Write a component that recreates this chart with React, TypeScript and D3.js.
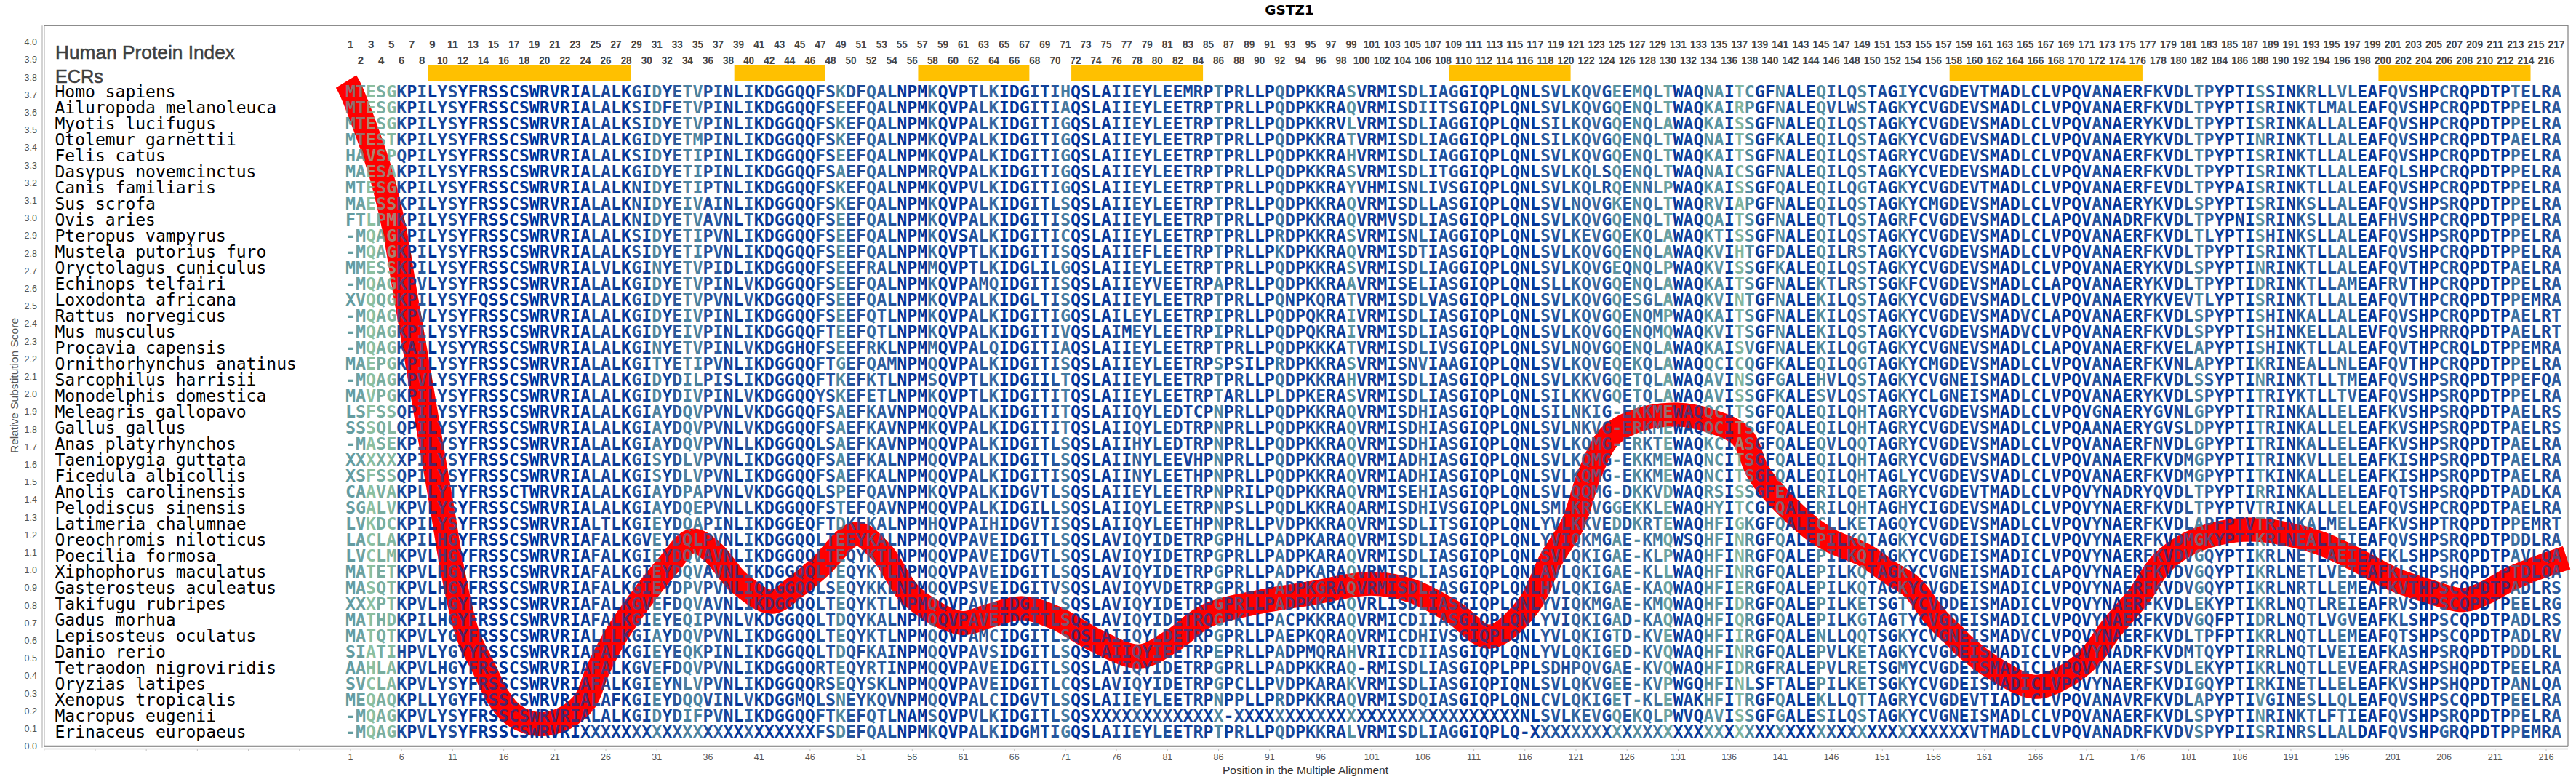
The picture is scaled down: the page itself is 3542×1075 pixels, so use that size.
import React from 'react';
import * as d3 from 'd3';

const title = 'GSTZ1';
const species = [
  'Homo sapiens','Ailuropoda melanoleuca','Myotis lucifugus','Otolemur garnettii','Felis catus','Dasypus novemcinctus','Canis familiaris','Sus scrofa','Ovis aries','Pteropus vampyrus','Mustela putorius furo','Oryctolagus cuniculus','Echinops telfairi','Loxodonta africana','Rattus norvegicus','Mus musculus','Procavia capensis','Ornithorhynchus anatinus','Sarcophilus harrisii','Monodelphis domestica','Meleagris gallopavo','Gallus gallus','Anas platyrhynchos','Taeniopygia guttata','Ficedula albicollis','Anolis carolinensis','Pelodiscus sinensis','Latimeria chalumnae','Oreochromis niloticus','Poecilia formosa','Xiphophorus maculatus','Gasterosteus aculeatus','Takifugu rubripes','Gadus morhua','Lepisosteus oculatus','Danio rerio','Tetraodon nigroviridis','Oryzias latipes','Xenopus tropicalis','Macropus eugenii','Erinaceus europaeus',
];

const seqCols1to30 = [
'MTESGKPILYSYFRSSCSWRVRIALALKGI','MTESGKPILYSYFRSSCSWRVRIALALKSI','MTESGKPILYSYFRSSCSWRVRIALALKSI','MTESTKPILYSYFRSSCSWRVRIALALKGI','HAVSPQPILYSYFRSSCSWRVRIALALKSI','MAESAKPILYSYFRSSCSWRVRIALALKGI','MTESGKPILYSYFRSSCSWRVRIALALKNI','MAESSKPILYSYFRSSCSWRVRIALALKNI','FTLPMKPILYSYFRSSCSWRVRIALALKNI','-MQAGKPILYSYFRSSCSWRVRIALALKSI','-MQAGKPILYSYFRSSCSWRVRIALALKSI','MMESSKPILYSYFRSSCSWRVRIALVLKGI','-MQAGKPVLYSYFRSSCSWRVRIALALKGI',
'XVQQGKPILYSYFQSSCSWRVRIALALKGI','-MQAGKPVLYSYFRSSCSWRVRIALALKGI','-MQAGKPILYSYFRSSCSWRVRIALALKGI','-MQAGKAILYSYYRSSCSWRVRIALALKGI','MAEPGKPILYSYFRSSCSWRVRIALALKGI','-MQAGKPVLYSYFRSSCSWRVRIALALKGI','MAVPGKPILYSYFRSSCSWRVRIALALKGI','LSFSSQPILYSYFRSSCSWRVRIALALKGI','SSSQLQPILYSYFRSSCSWRVRIALALKGI','-MASEKPILYSYFRSSCSWRVRIALALKGI','XXXXXXPILYSYFRSSCSWRVRIALALKGI','XSFSSQPILYSYFRSSCSWRVRIALALKGI','CAAVAKPLLYTYFRSSCTWRVRIALALKGI','SGALVKPVLYSYFRSSCSWRVRIALALKGI','LVKDCKPILYSYFRSSCSWRVRIALTLKGI',
'LACLAKPILHGYFRSSCSWRVRIAFALKGV','LVCLMKPVLHGYFRSSCSWRVRIAFALKGI','MATETKPVLHGYFRSSCSWRVRIAFALKGI','MASQTKPVLHGYFRSSCSWRVRIAFALKGI','XXXPTKPVLHGYFRSSCSWRVRIAFALKGV','MATHDKPILHGYFRSSCSWRVRIAFALKGI','MATQTKPVLYGYFRSSCSWRVRIALLLKGI','SIATIHPVLYGYYRSSCSWRVRIAFALKGI','AAHLAKPVLHGYFRSSCSWRVRIAFALKGV','SVCLAKPVLYSYFRSSCSWRVRIAFALKGI','MEQAQKPLLYGYFRSSCSWRVRIALAFKGI','-MQAGKPVLYSYFRSSCSWRVRIALALKGI','-MQAGKPVLYSYFRSSCSWRVRIXXXXXXX',
];

const seqCols31to94 = [
'DYETVPINLIKDGGQQFSKDFQALNPMKQVPTLKIDGITIHQSLAIIEYLEEMRPTPRLLPQDP','DFETVPINLIKDGGQQFSEEFQALNPMKQVPALKIDGITIAQSLAIIEYLEETRPTPRLLPQDP','DYETVPINLIKDGGQQFSKEFQALNPMKQVPALKIDGITIGQSLAIIEYLEETRPTPRLLPQDP','DYETMPINLIKDGGQQFSKEFQALNPMKQVPALKIDGITIGQSLAIIEYLEETRPTPRLLPQDP','DYETIPINLIKDGGQQFSEEFQALNPMKQVPALKIDGITIGQSLAIIEYLEETRPTPRLLPQDP','DYETIPINLIKDGGQQFSAEFQALNPMRQVPALKIDGITIGQSLAIIEYLEETRPTPRLLPQDP','DYETIPTNLIKDGGQQFSKEFQALNPMKQVPVLKIDGITIGQSLAIIEYLEETRPTPRLLPQDP','DYEIVAINLIKDGGQQFSKEFQALNPMKQVPALKIDGITLSQSLAIIEYLEETRPTPRLLPQDP','DYETVAVNLTKDGGQQFSEEFQALNPMKQVPALKIDGITISQSLAIIEYLEETRPTPRLLPQDP','DYETIPVNLIKDGGQQFSEEFQALNPMKQVSALKIDGITICQSLAIIEYLEETRPTPRLLPRDP','DYETIPVNLIKDQGQQFSEEFQALNPMKQVPTLKIDGITISQSLAIIEFLEETRPTPRLLPKDP','NYETVPIDLIKDGGQQFSEEFRALNPMMQVPTLKIDGLILGQSLAIIEYLEETRPTPRLLPQDP','DYETVPINLVKDGGQQFSEEFQALNPMKQVPAMQIDGITISQSLAIIEYVEETRPAPRLLPQDP',
'DYETVPVNLVKDGGQQFSEEFQALNPMKQVPALKIDGLTISQSLAIIEYLEETRPTPRLLPQNP','DYEIVPINLIKDGGQQFSEEFQTLNPMKQVPALKIDGITIGQSLAILEYLEETRPIPRLLPQDP','DYEIVPINLIKDGGQQFTEEFQTLNPMKQVPALKIDGITIVQSLAIMEYLEETRPIPRLLPQDP','NYETVPINLVKDGGHQFSEEFRKLNPMMQVPALQIDGITIAQSLAIIEYLEETRPTPRLLPQDP','TYETIPVNLIKDGGQQFTGEFQAMNPMQQVPALKIDGITISQSLAIIEYLEETRPSPSILPRDP','DYDILPISLIKDGGQQFTKEFKTLNPMSQVPTLKIDGIILTQSLAIIEYLEETRPTPRLLPQDP','DYDIVPINLVKDGGQQYSKEFETLNPMKQVPTLKIDGITITQSLAIIEYLEETRPTARLLPLDP','AYDQVPVNLVKDGGQQFSAEFKAVNPMQQVPALKIDGITITQSLAIIQYLEDTCPNPRLLPQDP','AYDQVPVNLVKDGGQQFSAEFKAVNPMKQVPALKIDGITITQSLAIIQYLEDTRPNPRLLPQDP','AYDQVPVNLLKDGGQQLSAEFKAVNPMQQVPALKIDGITLSQSLAIIHYLEDTRPNPRLLPQDP','SYDLVPVNLIKDGGQQFSAEFKALNPMQQVPALKIDGITLSQSLAIINYLEEVHPNPRLLPQDP','SYDLVPVNLIKDGGQQFSAEFKALNPMQQVPALKIDGITISQSLAIINYLEETHPNPRLLPQDP','AYDPAPVNLVKDGGQQLSPEFQAVNPMKQVPALKIDGVTLSQSLAIIEYLEETRPNPRILPQDP','AYDQEPVNLLKDGGQQFSTEFQAVNPMQQVPALKIDGILLSQSLAIIQYLEETRPNPSLLPQDL','EYDQAPINLIKDGGEQFTDKFKALNPMHQVPAIHIDGVTISQSLAIIQYLEETHPNPRLLPVDP',
'EYDQLPVNLIKDGGQQLTEEYKALNPMQQVPAVEIDGITLSQSLAVIQYIDETRPGPHLLPADP','EYDQVAVNLIKDGGQQLTEQYKTLNPMQQVPAVEIDGVTLSQSLAVIQYIDETRPGPRLLPADP','EYDQVAVNLIKDGGQQLTEQYKTLNPMQQVPAVEIDGITLSQSLAVIQYIDETRPGPRLLPADP','EYDPVPVNLIQDGGQQLSEQYKKLNPMQQVPSVEIDGITVSQSLAVIQYVDETRPGPRLLPADP','EFDQVAVNLIKDGGQQLTEQYKTLNPMQQVPAVEIDGITLSQSLAVIQYIDETRPGPRLLPADP','EYEQIPVNLVKDGGQQLTDQYKALNPMQQVPAVEIDGITLSQSLAVIQYIDETRQGPKLLPACP','AYDQVPVNLIKDGGQQLTEQYKTLNPMQQVPAMCIDGITLSQSLAIIQYLDETRPGPRLLPAEP','EYEQKPINLIKDGGQQLTDQFKAINPMQQVPAVSIDGITLSQSLAIIQYIEETRPEPRLLPADP','EFDQVPVNLIKDGGQQRTEQYRTINPMQQVPAVEIDGITLSQSLAVIQYIDETRPGPRLLPADP','EYNLVPVNLIKDGGQQRSEQYSKLNPMQQVPAVEIDGITLCQSLAVIQYIDETRPGPCLLPVDP','EYDQQVINLVKDGGMQLSNEYKQVNPMQQVPALCIDGVTLSQSLAIIEYLEETRPNPPLLPRDP','DYDIFPVNLIKDGGQQFTKEFQTLNAMSQVPVLKIDGITLSQSXXXXXXXXXXXXX-XXXXXXX','XXXXXXXXXXXXXXXXFSDEFQALNPMKQVPALKIDGMTIGQSLAIIEYLEETRPTPRLLPQDP',
];

const seqCols95to158 = [
'KKRASVRMISDLIAGGIQPLQNLSVLKQVGEEMQLTWAQNAITCGFNALEQILQSTAGIYCVGD','KKRAQVRMISDIITSGIQPLQNLSVLKQVGQENQLTWAQKAIRPGFNALEQVLWSTAGKYCVGD','KKRVLVRMISDLIAGGIQPLQNLSILKQVGQENQLAWAQKAISSGFNALEQILQSTAGKYCVGD','KKRATVRMISDLIAGGIQPLQNLSILKQVGQENQLTWAQNAITSGFKALEQILQSTAGKYCVGD','KKRAHVRMISDLIAGGIQPLQNLSVLKQVGQENQLTWAQKAITSGFNALEQILQSTAGRYCVGD','KKRASVRMISDLITGGIQPLQNLSVLKQLSQENQLTWAQNAICSGFNALEQILQSTAGKYCVED','KKRAYVHMISNLIVSGIQPLQNLSVLKQLRQENNLPWAQKAISSGFQALEQILQGTAGKYCVGD','KKRAQVRMISDLLASGIQPLQNLSVLNQVGKENQLTWAQRVIAPGFNALEQILQSTAGKYCMGD','KKRAQVRMVSDLIASGIQPLQNLSVLKQVGQENQLTWAQQAITSGFNALEQTLQSTAGRFCVGD','KKRASVRMISNLIAGGIQPLQNLSVLKEVGQEKQLAWAQKTISSGFNALEQILQSTAGKYCVGD','KKRAQVRMISDTIASGIQPLQNLSVLKQVGQENQLAWAQKVIHTGFDALEQILRSTAGKYCVGD','KKRASVRMISDLIAGGIQPLQNLSVLKQVGEQNQLPWAQKVISSGFKALEQILQSTAGKYCVGD','KKRAAVRMISELIASGIQPLQNLSLLKQVGQENQLAWAQKAITSGFNALEKTLRSTSGKFCVGD',
'KQRATVRMISDLVASGIQPLQNLSVLKQVGQESGLAWAQKVINTGFNALEKILQSTAGKYCVGD','QKRAIVRMISDLIASGIQPLQNLSVLKQVGQENQMPWAQKAITSGFNALEKILQSTAGKYCVGD','QKRAIVRMISDLIASGIQPLQNLSVLKQVGQENQMQWAQKVITSGFNALEKILQSTAGKYCVGD','KKKATVRMISDLIVSGIQPLQNLSVLNQVGQENQLAWAQKAISVGFNALEKILQGTAGKYCVGN','KKRASVRMISNVIAAGIQPLQNLSVLKQVEQEKQLAWAQQCICQGFKALEQILQGTAGKYCMGD','KKRAHVRMISDLIASGIQPLQNLSVLKKVGQETQLAWAQAVINSGFGALEHVLQSTAGKYCVGN','KERASVRMISDLIASGIQPLQNLSILKKVGQETQLAWAQAVISSGFKALESVLQSTAGKYCLGN','KKRAQVRMISDHIASGIQPLQNLSILNKIG-EKKMEWAQQCITSGFQALEQILQHTAGRYCVGD','KKRAQVRMISDHIASGIQPLQNLSVLNKVG-ERKMEWAQQCITSGFQALEQILQHTAGRYCVGD','KKRAQVRMISDHIASGIQPLQNLSVLKQMG-ERKTEWAQKCIASGFQALEQVLQQTAGRYCVGD','KKRAQVRMIADHIASGIQPLQNLSVLKQMG-EKKMEWAQNCITSGFQALEQILQHTAGRYCVGD','KKRAQVRMIADHIASGIQPLQNLSVLKQMG-EKKMEWAQNCITSGFQALEQILQHTAGLYCVGD','KKRAQVRMISEHIASGIQPLQNLSVLQQMG-DKKVDWAQRSISSGFEALERILQETAGRYCVGD','KKRAQARMISDHIVSGIQPLQNLSMLKRVGGEKKLEWAQHYITCGFQALERILQHTAGHYCIGD','KKRAQVRMISDLITSGIQPLQNLYVLKKVEDDKRTEWAQHFIGKGFQALECLLKETAGQYCVGD',
'KARAQVRMISDLIASGIQPLQNLYVIQKMGAE-KMQWSQHFINRGFQALEPILKQTAGKYCVGD','KARAQVRMISDLIASGIQPLQNLSVLQKIGAE-KLPWAQHFINRGFQALEPILKQTAGKYCVGD','KARAQVRMISDLIASGIQPLQNLAVLQKIGAE-KLLWAQHFINRGFQALEPILKQTAGKYCVGN','KGRAQVRMISDLIASGIQPLQNLHVLQKIGAE-KAQWAQHFIERGFQALEPILKQTAGKYCVGD','KKRAQVRLISDLIASGIQPLQNLYVIQKMGAE-KMQWAQHFIDRGFQALEPILKETSGTYCVDD','KKRAQVRMICDIIASGIQPLQNLYVIQKIGAD-KAQWAQHFIQRGFQALEPILKGTAGTYCVGD','KQRAQVRMICDHIVSGIQPLQNLYVLQKIGTD-KVEWAQHFIIRGFQALENLLQQTSGKYCVGN','MQRAHVRIICDIIASGIQPLQNLYVLQKIGED-KVQWAQHFINRGFQALEPVLKETAGKYCVGD','KKRAQ-RMISDLIASGIQPLPPLSDHPQVGAE-KVQWAQHFIDRGFRALEPVLRETSGMYCVGD','KARAKVRMISDLIASGIQPIQNLSVLQKVGEE-KVPWGQHFINLSFTALEPILKETSGKYCVGD','KKRAQVRMISDQIASGIQPLQNLCVLQKIGET-KLEWAKHFITRGFQALEKLLQTTAGRYCVGD','XXXXXXXXXXXXXXXXXXXXXNLSVLKEVGQEKQLPWVQAVISSGFGALESILQSTAGKYCVGN','KKRALVRMISDLIAGGIQPLQ-XXXXXXXXXXXXXXXXXXXXXXXXXXXXXXXXXXXXXXXXXX',
];

const seqCols159to217 = [
'EVTMADLCLVPQVANAERFKVDLTPYPTISSINKRLLVLEAFQVSHPCRQPDTPTELRA','EVSMADLCLVPQVANAERFKVDLTPYPTISRINKTLMALEAFQVSHPCRQPDTPPELRA','EVSMADLCLVPQVANAERYKVDLTPYPTISRINKALLALEAFQVSHPCRQPDTPPELRA','EVSMADLCLVPQVANAERYKVDLTPYPTINRINKTLLALEAFQVSHPCRQPDTPAELRA','EVSMADLCLVPQVANAERFKVDLTPYPTISRINKTLLALEAFQVSHPCRQPDTPPELRA','EVSMADLCLVPQVANAERFKVDLTPYPTISRINKTLLALEAFQLSHPCRQPDTPPELRA','EVTMADLCLVPQVANAERFEVDLTPYPAISRINKTLLALEAFQVSHPCRQPDTPPELRA','EVSMADLCLVPQVANAERYKVDLSPYPTISRINKSLLALEAFQVSHPSRQPDTPPELRA','EVSMADLCLAPQVANADRFKVDLTPYPNISRINKSLLALEAFHVSHPCRQPDTPPELRA','EVSMADLCLVPQVANAERFKVDLTLYPTISHINKSLLALEAFQVSHPSRQPDTPPELRA','EVSMADLCLVPQVANAERFKVDLTPYPTISRINKTLLALEAFQVSHPCRQPDTPPELRA','EVSMADLCLVPQVANAERYKVDLSPYPTINRINKTLLALEAFQVTHPCRQPDTPAELRA','EVSMADLCLAPQVANAERYKVDLTPYPTIDRINKTLLAMEAFRVTHPCRQPDTPPELRA',
'EVSMADLCLVPQVANAERYKVEVTLYPTISRINKTLLALEAFQVTHPCRQPDTPPEMRA','EVSMADVCLAPQVANAERFKVDLSPYPTISHINKALLALEAFQVSHPCRQPDTPAELRT','EVSMADVCLVPQVANAERFKVDLSPYPTISHINKELLALEVFQVSHPRRQPDTPAELRT','EVSMADLCLAPQVANAERFKVELAPYPTISHINKTLLALEAFQVTHPCRQLDTPPEMRA','EVSMADLCLVPQVANAERFKVNLAPYPTIKRINEALLNLEAFQVTHPCRQPDTPPELRA','EISMADLCLVPQVANAERFKVDLSSYPTINRINKTLLTMEAFQVSHPSRQPDTPPEFQA','EISMADLCLVPQVANAERYKVDLSPYPTITRIYKTLLTVEAFQVSHPSRQPDTPPELRA','EVSMADLCLVPQVGNAERYGVNLGPYPTITRINKALLELEAFKVSHPSRQPDTPAELRS','EVSMADLCLVPQAANAERYGVSLDPYPTITRINKALLELEAFKVSHPSRQPDTPAELRS','EVSMADLCLVPQVANAERFNVDLGPYPTITRINKALLELEAFKVSHPSRQPDTPAELRA','EVSMADLCLVPQVANAERFKVDMGPYPTITRINKVLLELEAFKISHPSRQPDTPAELRA','EVSVADLCLVPQVANAERFKVDMGPYPTITKINKALLELEAFKISHPSRQPDTPAELRA','EVTMADLCLVPQVYNADRYQVDLTPYPTIRRINKALLELEAFQTSHPSRQPDTPADLKA','EVSMADLCLVPQVYNAERFKVDLTPYPTVTRINKALLELEAFQVSHPCRQPDTPAELRA','EVSMADLCLVPQVYNAERFKVDLAPFPTVTRINKALMELEAFKVSHPTRQPDTPPEMRT',
'EISMADICLVPQVYNAERFKVDMGKYPTIKRLNEALLEIEAFQVSHPSRQPDTPDDLRA','EISMADICLVPQVYNAERFKVDVGQYPTIKRLNETLAEIEAFKLSHPSRQPDTPAVLQA','EISMADICLAPQVYNAERFKVDVGQYPTIKRLNETLVEIEAFKLSHPSHQPDTPTDLQA','EISMADICLVPQVYNAERFKVDVGQYPTIKRLNRTLLEMEAFKVTHPSCQPDTPADLRS','EISMADICLVPQVYNAERFKVDLEKYPTIKRLNQTLREIEAFRVSHPSCQPDTPEELRG','EISMADICLVPQVYNAERFKVDVGQFPTIDRLNQTLVGVEAFKLSHPSCQPDTPADLRS','EISMADVCLVPQVYNAERFKVDLTPFPTIKRLNQTLLEMEAFQTSHPSCQPDTPADLRV','EISMADICLVPQVYNADRFKVDMTQYPTIRRLNQTLVEIEAFKASHPSRQPDTPDDLRL','EISMADICLVPQVYNAERFSVDLEKYPTIKRLNQTLLEVEAFRASHPSHQPDTPEELRA','EISMADICLVPQVYNAERFKVDIGQYPTIRKINETLLELEAFKVSHPSHQPDTPANLQA','EVTIADLCLVPQVANAVRFKVDLAPYPTIVGINESLLQLEAFQVSHPSCQPDTPEELRA','EISMADLCLVPQVANAERFKVDLSPYPTINRINKTLFTIEAFQVSHPSRQPDTPPELRA','XVTMADLCLVPQVANADRFKVDVSPYPIISRINRSLLALDAFQVSHPGRQPDTPPEMRA',
];

const ecrStarts = [9, 39, 57, 72, 109, 158, 200];
const ecrEnds = [28, 47, 67, 84, 120, 176, 214];

const curvePositions = [0.57, 1.07, 3.85, 5.31, 6.33, 7.35, 8.9, 10, 11.05, 12.5, 14, 15.5, 17, 19.5, 22, 24, 25.2, 27, 29.2, 32, 34.5, 36.5, 39, 42.2, 44.5, 47, 50.5, 53, 56, 60.8, 63.5, 66.7, 70, 74, 78.2, 81.5, 84.8, 90, 94.9, 101, 105, 109, 112.5, 116.2, 118.6, 120.7, 122.3, 124.3, 127, 130.9, 134, 137.2, 139, 143.5, 145.8, 149.4, 151.5, 153.9, 155.2, 156.4, 158, 159, 162, 165.9, 169, 171.4, 173.5, 176.2, 178.3, 181, 184, 187.2, 191, 194, 197.2, 201, 204.5, 207.9, 210, 212.5, 215.5, 218];
const curveScores = [3.775, 3.72, 3.275, 2.93, 2.58, 2.24, 1.71, 1.34, 0.98, 0.63, 0.449, 0.275, 0.175, 0.125, 0.16, 0.26, 0.43, 0.63, 0.816, 1.02, 1.168, 1.1, 0.93, 0.82, 0.9, 1.02, 1.205, 1.1, 0.85, 0.7, 0.74, 0.784, 0.73, 0.6, 0.51, 0.6, 0.74, 0.82, 0.867, 0.923, 0.88, 0.76, 0.622, 0.788, 1.065, 1.263, 1.54, 1.76, 1.85, 1.883, 1.85, 1.76, 1.54, 1.263, 1.171, 1.08, 0.994, 0.904, 0.81, 0.72, 0.63, 0.57, 0.44, 0.337, 0.4, 0.51, 0.675, 0.858, 1.036, 1.15, 1.21, 1.23, 1.2, 1.15, 1.065, 0.95, 0.88, 0.83, 0.87, 0.95, 1.02, 1.07];

const sequences = species.map((_, i) => seqCols1to30[i] + seqCols31to94[i] + seqCols95to158[i] + seqCols159to217[i]);

const columnCount = 217;
const columns = d3.range(1, columnCount + 1);
const yTicks = d3.range(0, 41).map(d => d / 10);
const xTicks = d3.range(-29, 218, 5);

const x = d3.scaleLinear().domain([1, 216]).range([482, 3501]);
const y = d3.scaleLinear().domain([0, 4]).range([1025.7, 57.7]);
const rowY = d3.scaleLinear().domain([0, 40]).range([134.2, 1013.8]);

const entropy = columns.map(c => {
  const counts = d3.rollup(sequences, v => v.length, s => s[c - 1]);
  let h = 0;
  counts.forEach(n => { const p = n / sequences.length; h -= p * Math.log2(p); });
  return h;
});
const entropyMax = d3.max(entropy) as number;
const colour = d3.scaleLinear<string>().domain([0, 0.15, 0.45, 0.75, 1].map(d => d * entropyMax))
  .range(['#003399', '#104099', '#2f5f9f', '#558ea0', '#8cbfa0']);

const line = d3.line<number>().x(d => x(curvePositions[d])).y(d => y(curveScores[d])).curve(d3.curveCatmullRom.alpha(0.5));
const curvePath = line(d3.range(curvePositions.length)) as string;

const SANS = '"Liberation Sans", Arial, sans-serif';
const MONO = '"DejaVu Sans Mono", monospace';

export default function App() {
  const left = x(-29), right = 3531, top = 35.3, bottom = 1025.7;
  return (
    <svg width={3542} height={1075} style={{ position: 'absolute', left: 0, top: 0, background: '#fff' }}>
      <text x={1773} y={20} textAnchor="middle" fontFamily='"DejaVu Sans", sans-serif' fontWeight="bold" fontSize={18.5}>{title}</text>
      <rect x={left} y={top} width={right - left} height={bottom - top} fill="#fff" stroke="#808080" strokeWidth={1.2} />
      <line x1={left} x2={right} y1={bottom} y2={bottom} stroke="#808080" strokeWidth={2} />
      <line x1={58} x2={58} y1={top} y2={bottom + 2} stroke="#c4c4c4" strokeWidth={1.5} />
      <line x1={left} x2={right} y1={1029.5} y2={1029.5} stroke="#c4c4c4" strokeWidth={1.5} />
      {yTicks.map(t => (
        <text key={t} x={51} y={y(t) + 4.5} textAnchor="end" fontFamily={SANS} fontSize={12.5} fill="#555">{t.toFixed(1)}</text>
      ))}
      {xTicks.map(t => (
        <g key={t}>
          <line x1={x(t)} x2={x(t)} y1={1029.5} y2={1033} stroke="#c4c4c4" />
          {t > 0 && <text x={x(t)} y={1045} textAnchor="middle" fontFamily={SANS} fontSize={12.5} fill="#555">{t}</text>}
        </g>
      ))}
      <text transform="translate(25,530) rotate(-90)" textAnchor="middle" fontFamily={SANS} fontSize={14} fill="#555" textLength={186} lengthAdjust="spacingAndGlyphs">Relative Substitution Score</text>
      <text x={1795} y={1064} textAnchor="middle" fontFamily={SANS} fontSize={14} fill="#333" textLength={228} lengthAdjust="spacingAndGlyphs">Position in the Multiple Alignment</text>

      <text x={76} y={81} fontFamily={SANS} fontSize={25} fill="#404040" stroke="#404040" strokeWidth={0.5} textLength={247} lengthAdjust="spacingAndGlyphs">Human Protein Index</text>
      <text x={76} y={114} fontFamily={SANS} fontSize={25} fill="#404040" stroke="#404040" strokeWidth={0.5} textLength={66} lengthAdjust="spacingAndGlyphs">ECRs</text>

      {columns.map(c => (
        <text key={c} x={x(c)} y={c % 2 === 1 ? 65.5 : 87.5} textAnchor="middle" fontFamily={SANS} fontWeight="bold" fontSize={15} fill="#444" textLength={c < 10 ? undefined : c < 100 ? 15 : 23} lengthAdjust={c < 10 ? undefined : 'spacingAndGlyphs'}>{c}</text>
      ))}
      {ecrStarts.map((s, i) => (
        <rect key={s} x={x(s - 0.42)} y={90} width={x(ecrEnds[i] + 0.47) - x(s - 0.42)} height={21} fill="#ffc000" />
      ))}

      <path d={curvePath} fill="none" stroke="#ff0000" strokeWidth={33} strokeLinejoin="round" />

      {species.map((name, r) => (
        <text key={name} x={75.5} y={rowY(r)} fontFamily={MONO} fontSize={23} fill="#000">{name}</text>
      ))}
      {sequences.map((seq, r) => columns.map(c => (
        <text key={`${r}-${c}`} x={x(c)} y={rowY(r)} textAnchor="middle" fontFamily={MONO} fontWeight="bold" fontSize={23.3} fill={colour(entropy[c - 1])}>{seq[c - 1]}</text>
      )))}

      <path d={curvePath} fill="none" stroke="#ff0000" strokeOpacity={0.3} strokeWidth={33} strokeLinejoin="round" />
    </svg>
  );
}
